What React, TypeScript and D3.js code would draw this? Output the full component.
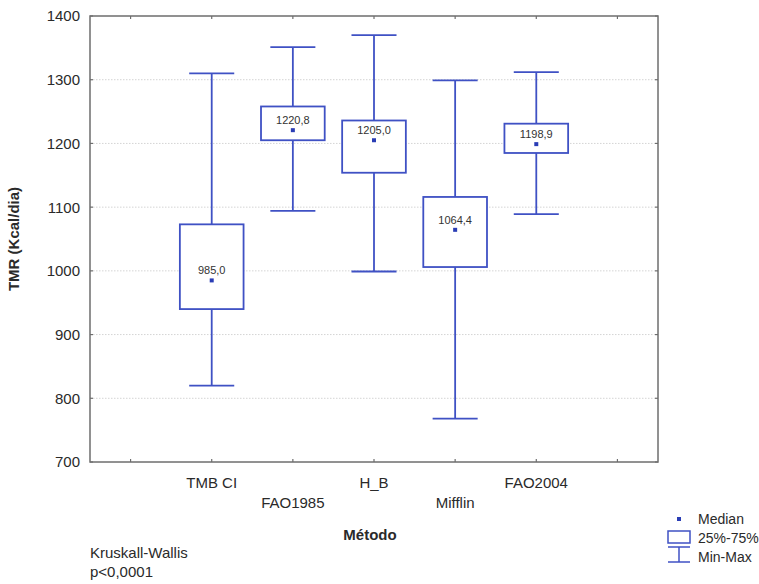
import React from "react";
import * as d3 from "d3";

const categories = ["TMB CI", "FAO1985", "H_B", "Mifflin", "FAO2004"];
const mins = [820, 1094, 999, 768, 1089];
const q1s = [940, 1205, 1154, 1006, 1185];
const medians = [985.0, 1220.8, 1205.0, 1064.4, 1198.9];
const q3s = [1073, 1258, 1236, 1116, 1231];
const maxs = [1310, 1351, 1370, 1299, 1312];
const yTicks = [700, 800, 900, 1000, 1100, 1200, 1300, 1400];

const W = 759;
const H = 584;
const left = 90;
const right = 658;
const top = 16;
const bottom = 462;
const BLUE = "#3f51c4";
const FRAME = "#6e6e6e";
const TXT = "#2a2a2a";
const FONT = "Liberation Sans, Arial, sans-serif";

export default function App() {
  const slots = ["_l", ...categories, "_r"];
  const x = d3.scaleBand<string>().domain(slots).range([left, right]).padding(0);
  const y = d3.scaleLinear().domain([700, 1400]).range([bottom, top]);
  const bw = x.bandwidth();
  const boxW = bw * 0.785;
  const capW = bw * 0.555;
  const cx = (k: string) => (x(k) as number) + bw / 2;
  const fmt = (v: number) => v.toFixed(1).replace(".", ",");

  return (
    <svg width={W} height={H} style={{ position: "absolute", left: 0, top: 0, background: "#fff" }} fontFamily={FONT}>
      {yTicks.filter((t) => t > 700 && t < 1400).map((t) => (
        <line key={"g" + t} x1={left} x2={right} y1={y(t)} y2={y(t)} stroke="#d4d4d4" strokeWidth={1} strokeDasharray="1.5,1.5" />
      ))}
      {yTicks.map((t) => (
        <g key={"y" + t}>
          <line x1={left} x2={left + 3} y1={y(t)} y2={y(t)} stroke={FRAME} strokeWidth={1.2} />
          <line x1={right - 3} x2={right} y1={y(t)} y2={y(t)} stroke={FRAME} strokeWidth={1.2} />
          <text x={left - 10} y={y(t)} dy="0.36em" textAnchor="end" fontSize={15} fill={TXT}>{t}</text>
        </g>
      ))}
      {slots.map((s) => (
        <g key={"x" + s}>
          <line x1={cx(s)} x2={cx(s)} y1={top} y2={top + 3} stroke={FRAME} strokeWidth={1.2} />
          <line x1={cx(s)} x2={cx(s)} y1={bottom} y2={bottom - 3} stroke={FRAME} strokeWidth={1.2} />
        </g>
      ))}
      <rect x={left} y={top} width={right - left} height={bottom - top} fill="none" stroke={FRAME} strokeWidth={1.5} />
      {categories.map((c, i) => {
        const xc = cx(c);
        return (
          <g key={c} stroke={BLUE} strokeWidth={1.8} fill="none">
            <line x1={xc} x2={xc} y1={y(maxs[i])} y2={y(q3s[i])} />
            <line x1={xc} x2={xc} y1={y(q1s[i])} y2={y(mins[i])} />
            <line x1={xc - capW / 2} x2={xc + capW / 2} y1={y(maxs[i])} y2={y(maxs[i])} />
            <line x1={xc - capW / 2} x2={xc + capW / 2} y1={y(mins[i])} y2={y(mins[i])} />
            <rect x={xc - boxW / 2} y={y(q3s[i])} width={boxW} height={y(q1s[i]) - y(q3s[i])} fill="#fff" />
            <rect x={xc - 2} y={y(medians[i]) - 2} width={4} height={4} fill="#2a3db5" stroke="none" />
            <text x={xc} y={y(medians[i]) - 6} textAnchor="middle" fontSize={11} fill="#333" stroke="none">{fmt(medians[i])}</text>
          </g>
        );
      })}
      {categories.map((c, i) => (
        <text key={"l" + c} x={cx(c)} y={i % 2 === 0 ? 488 : 508} textAnchor="middle" fontSize={15} fill={TXT}>{c}</text>
      ))}
      <text x={370} y={540} textAnchor="middle" fontSize={15} fontWeight="bold" fill={TXT}>Método</text>
      <text transform={`translate(19,${(top + bottom) / 2}) rotate(-90)`} textAnchor="middle" fontSize={15} fontWeight="bold" fill={TXT}>TMR (Kcal/dia)</text>
      <text x={90} y={558} fontSize={15} fill={TXT}>Kruskall-Wallis</text>
      <text x={90} y={577} fontSize={15} fill={TXT}>p&lt;0,0001</text>
      <rect x={677} y={517} width={4} height={4} fill="#2a3db5" />
      <text x={698} y={519} dy="0.36em" fontSize={14} fill={TXT}>Median</text>
      <rect x={668} y={531} width={22} height={12} fill="none" stroke={BLUE} strokeWidth={1.5} />
      <text x={698} y={538} dy="0.36em" fontSize={14} fill={TXT}>25%-75%</text>
      <g stroke={BLUE} strokeWidth={1.5}>
        <line x1={668} x2={690} y1={547} y2={547} />
        <line x1={668} x2={690} y1={562} y2={562} />
        <line x1={679} x2={679} y1={547} y2={562} />
      </g>
      <text x={698} y={557} dy="0.36em" fontSize={14} fill={TXT}>Min-Max</text>
    </svg>
  );
}
